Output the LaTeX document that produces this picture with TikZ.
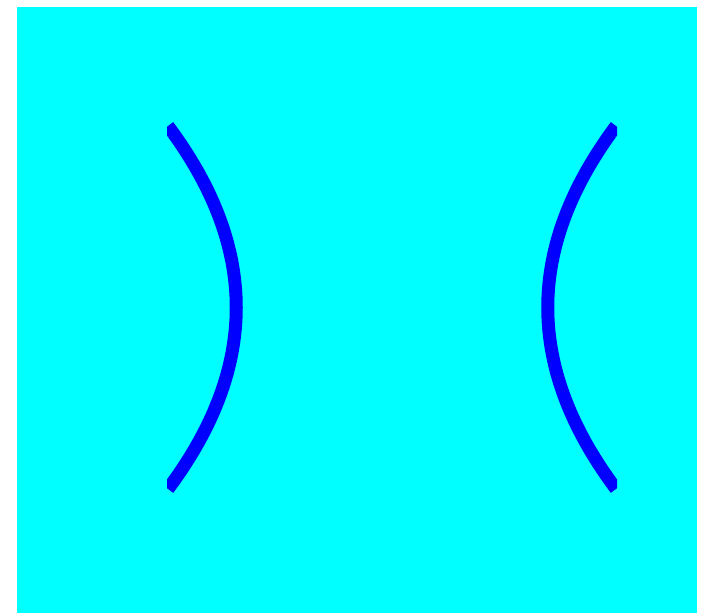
\documentclass[tikz,border=0pt]{standalone}
\definecolor{nenxanh}{RGB}{0,255,255}
\definecolor{nhanhxanh}{RGB}{0,0,255}
\begin{document}
\begin{tikzpicture}[x=0.5pt, y=-0.5pt]
			
			% 1. Khung nen
			\useasboundingbox (0,0) rectangle (704,614);
			\fill[nenxanh] (17,7) rectangle (697,613);
			
			% 2. Hai nhanh cong
			\begin{scope}
				\clip (167,0) rectangle (617,614);
				\draw[nhanhxanh, line width=6.5pt] (168,126) .. controls (259,248) and (259,367) .. (168,489);
				\draw[nhanhxanh, line width=6.5pt] (616,126) .. controls (525,248) and (525,367) .. (616,489);
			\end{scope}
			
		\end{tikzpicture}
\end{document}
